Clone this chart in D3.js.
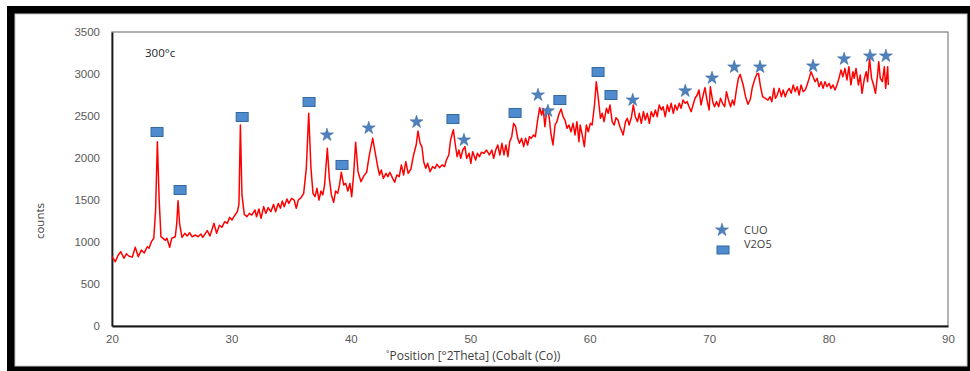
<!DOCTYPE html>
<html lang="en">
<head>
<meta charset="UTF-8">
<title>XRD pattern 300°c</title>
<script src="https://d3js.org/d3.v7.min.js"></script>
<style>
  body { margin: 0; background: #fff; }
  svg { display: block; font-family: "Open Sans", sans-serif; }
  .axis text { font-size: 11.5px; fill: #595959; }
</style>
</head>
<body>
<svg id="chart" width="970" height="371"></svg>
<script>
// scan: 2theta (deg) and counts
const theta = [
  20.0, 20.28, 20.5, 20.73, 21.0, 21.2, 21.4, 21.7, 21.95, 22.2, 22.46, 22.7, 22.95, 23.1, 23.3, 23.5,
  23.65, 23.8, 23.95, 24.1, 24.3, 24.47, 24.6, 24.83, 25.0, 25.3, 25.42, 25.53, 25.66, 25.86, 26.1, 26.3,
  26.5, 26.7, 27.0, 27.2, 27.45, 27.6, 27.98, 28.2, 28.54, 28.76, 29.0, 29.2, 29.44, 29.66, 29.85, 30.05,
  30.3, 30.5, 30.63, 30.75, 30.88, 31.08, 31.3, 31.5, 31.7, 31.97, 32.1, 32.3, 32.48, 32.7, 32.88, 33.08,
  33.3, 33.53, 33.7, 33.92, 34.1, 34.26, 34.42, 34.65, 34.8, 35.04, 35.25, 35.43, 35.6, 35.83, 36.05, 36.27,
  36.47, 36.66, 36.83, 37.0, 37.16, 37.33, 37.5, 37.65, 37.8, 38.03, 38.2, 38.37, 38.56, 38.72, 38.9, 39.05,
  39.2, 39.4, 39.57, 39.75, 39.92, 40.07, 40.23, 40.4, 40.6, 40.85, 41.1, 41.32, 41.55, 41.83, 42.05, 42.22,
  42.4, 42.55, 42.72, 42.95, 43.1, 43.27, 43.5, 43.67, 43.85, 44.05, 44.23, 44.42, 44.6, 44.8, 45.03, 45.25,
  45.47, 45.62, 45.8, 45.95, 46.1, 46.27, 46.43, 46.63, 46.85, 47.05, 47.2, 47.42, 47.65, 47.85, 48.0, 48.2,
  48.35, 48.58, 48.75, 48.9, 49.05, 49.2, 49.37, 49.55, 49.7, 49.9, 50.05, 50.2, 50.45, 50.6, 50.77, 50.93,
  51.15, 51.36, 51.6, 51.8, 51.96, 52.13, 52.3, 52.48, 52.65, 52.82, 52.98, 53.15, 53.3, 53.47, 53.63, 53.8,
  53.97, 54.12, 54.3, 54.47, 54.63, 54.8, 54.95, 55.1, 55.3, 55.45, 55.62, 55.81, 55.97, 56.1, 56.25, 56.42,
  56.6, 56.75, 56.92, 57.1, 57.25, 57.4, 57.6, 57.77, 57.93, 58.1, 58.26, 58.43, 58.6, 58.77, 58.93, 59.1,
  59.2, 59.4, 59.55, 59.72, 59.88, 60.05, 60.2, 60.4, 60.55, 60.72, 60.9, 61.05, 61.2, 61.4, 61.55, 61.7,
  61.88, 62.05, 62.2, 62.37, 62.53, 62.7, 62.8, 63.0, 63.15, 63.3, 63.5, 63.65, 63.82, 64.0, 64.15, 64.32,
  64.5, 64.65, 64.82, 65.0, 65.15, 65.33, 65.5, 65.65, 65.82, 66.0, 66.15, 66.32, 66.5, 66.65, 66.82, 67.0,
  67.15, 67.32, 67.5, 67.65, 67.82, 68.0, 68.15, 68.32, 68.5, 68.65, 68.82, 69.0, 69.15, 69.32, 69.5, 69.65,
  69.82, 70.0, 70.1, 70.3, 70.45, 70.62, 70.8, 70.95, 71.12, 71.3, 71.45, 71.62, 71.8, 71.95, 72.1, 72.3,
  72.45, 72.6, 72.85, 73.05, 73.25, 73.45, 73.6, 73.8, 74.0, 74.13, 74.3, 74.48, 74.7, 74.93, 75.1, 75.25,
  75.42, 75.55, 75.7, 75.87, 76.05, 76.2, 76.37, 76.53, 76.7, 76.87, 77.04, 77.2, 77.37, 77.53, 77.7, 77.87,
  78.04, 78.2, 78.37, 78.53, 78.7, 78.87, 79.04, 79.2, 79.37, 79.54, 79.7, 79.87, 80.04, 80.2, 80.37, 80.54,
  80.7, 80.87, 81.04, 81.2, 81.37, 81.54, 81.7, 81.87, 82.04, 82.15, 82.3, 82.5, 82.65, 82.8, 83.0, 83.15,
  83.27, 83.43, 83.6, 83.77, 83.93, 84.1, 84.2, 84.33, 84.5, 84.67, 84.78, 84.95, 85.0
];
const counts = [
  825, 765, 840, 885, 806, 860, 833, 820, 937, 825, 905, 870, 944, 925, 1004, 1044,
  1380, 2194, 1500, 1063, 1040, 1020, 1044, 937, 1044, 1063, 1220, 1492, 1220, 1055, 1103, 1071,
  1111, 1063, 1083, 1063, 1095, 1055, 1135, 1071, 1222, 1103, 1200, 1175, 1242, 1222, 1293, 1262,
  1322, 1361, 1450, 2393, 1560, 1329, 1302, 1341, 1321, 1381, 1300, 1393, 1282, 1421, 1341, 1409,
  1361, 1448, 1361, 1460, 1401, 1488, 1421, 1512, 1460, 1520, 1500, 1401, 1500, 1528, 1579, 1877,
  2532, 1877, 1579, 1540, 1639, 1500, 1607, 1560, 1679, 2115, 1758, 1560, 1472, 1607, 1579, 1679,
  1830, 1679, 1698, 1607, 1698, 1540, 1798, 2187, 1837, 1718, 1790, 1830, 2036, 2234, 2056, 1917,
  1798, 1857, 1758, 1818, 1778, 1830, 1758, 1711, 1798, 1778, 1917, 1798, 1956, 1818, 1869, 2036,
  2155, 2321, 2175, 2135, 1956, 1877, 1937, 1837, 1897, 1877, 1925, 1885, 1917, 1897, 1976, 2036,
  2214, 2337, 2155, 2016, 2095, 1996, 2095, 2135, 1996, 2056, 1937, 2075, 1976, 2056, 2016, 2068,
  2056, 2095, 2036, 2095, 1996, 2095, 2155, 2036, 2175, 2036, 2155, 2016, 2194, 2254, 2413, 2373,
  2234, 2175, 2234, 2135, 2234, 2155, 2254, 2234, 2274, 2254, 2432, 2599, 2512, 2591, 2373, 2591,
  2492, 2294, 2155, 2393, 2432, 2512, 2583, 2492, 2452, 2353, 2393, 2313, 2413, 2274, 2432, 2194,
  2393, 2254, 2135, 2393, 2313, 2413, 2393, 2631, 2908, 2711, 2472, 2532, 2432, 2591, 2532, 2631,
  2432, 2393, 2480, 2452, 2373, 2313, 2274, 2432, 2472, 2393, 2492, 2631, 2492, 2432, 2532, 2413,
  2552, 2452, 2532, 2413, 2552, 2492, 2571, 2492, 2631, 2571, 2611, 2492, 2631, 2552, 2651, 2532,
  2631, 2571, 2651, 2591, 2690, 2651, 2671, 2611, 2552, 2631, 2711, 2750, 2810, 2631, 2750, 2837,
  2690, 2571, 2849, 2671, 2611, 2671, 2611, 2711, 2651, 2611, 2790, 2690, 2611, 2690, 2631, 2829,
  2950, 2995, 2869, 2730, 2640, 2700, 2830, 2930, 3000, 3008, 2850, 2730, 2711, 2690, 2730, 2671,
  2829, 2711, 2750, 2829, 2730, 2810, 2730, 2790, 2829, 2770, 2869, 2790, 2849, 2750, 2869, 2790,
  2810, 2869, 2948, 3028, 2968, 2908, 2948, 2849, 2908, 2829, 2908, 2849, 2889, 2829, 2869, 2810,
  2869, 2948, 3048, 2968, 3067, 2929, 3087, 2869, 3028, 2948, 3067, 2869, 2988, 2770, 2948, 3028,
  2908, 3187, 2948, 2869, 2770, 2988, 3147, 2948, 2908, 3087, 2829, 3087, 2869
];

// phase markers
const cuoTheta  = [38.0, 41.5, 45.5, 49.47, 55.67, 56.5, 63.6, 68.0, 70.24, 72.1, 74.26, 78.7, 81.3, 83.47, 84.8];
const cuoCounts = [2274, 2357, 2429, 2214, 2750, 2560, 2690, 2798, 2952, 3083, 3083, 3095, 3179, 3214, 3214];
const v2o5Theta  = [23.77, 25.7, 30.9, 36.5, 39.26, 48.55, 53.75, 57.5, 60.7, 61.78];
const v2o5Counts = [2310, 1619, 2488, 2667, 1917, 2464, 2536, 2690, 3024, 2750];

const xTicks = [20, 30, 40, 50, 60, 70, 80, 90];
const yTicks = [0, 500, 1000, 1500, 2000, 2500, 3000, 3500];

const svg = d3.select("#chart");
const x = d3.scaleLinear().domain([20, 90]).range([112, 948]);
const y = d3.scaleLinear().domain([0, 3500]).range([326, 32]);

// heavy black frame round the picture
svg.append("rect").attr("x", 7).attr("y", 6).attr("width", 963).attr("height", 365).attr("fill", "#000");
svg.append("rect").attr("x", 15).attr("y", 14).attr("width", 952).attr("height", 352)
  .attr("fill", "#fff").attr("stroke", "#c8c8c8");

// plot area border
svg.append("rect").attr("x", 112).attr("y", 32).attr("width", 836).attr("height", 294)
  .attr("fill", "none").attr("stroke", "#7f7f7f").attr("stroke-width", 1.2);

svg.append("g").attr("class", "axis").attr("transform", "translate(0,326)")
  .call(d3.axisBottom(x).tickValues(xTicks).tickFormat(d3.format("d")).tickSize(0).tickPadding(9));
svg.append("g").attr("class", "axis").attr("transform", "translate(112,0)")
  .call(d3.axisLeft(y).tickValues(yTicks).tickFormat(d3.format("d")).tickSize(0).tickPadding(12));
svg.selectAll(".axis .domain").attr("stroke", "#1a1a1a").attr("stroke-width", 1.8);

// the red scan
const line = d3.line().x((d, i) => x(theta[i])).y(d => y(d));
svg.append("path").datum(counts)
  .attr("d", line)
  .attr("fill", "none")
  .attr("stroke", "#ff0000")
  .attr("stroke-width", 1.5)
  .attr("stroke-linejoin", "round");

// markers
const star = d3.symbol().type(d3.symbolStar).size(52);
svg.append("g").selectAll("path")
  .data(cuoTheta)
  .join("path")
  .attr("d", star)
  .attr("transform", (d, i) => `translate(${x(d)},${y(cuoCounts[i])})`)
  .attr("fill", "#4f81bd")
  .attr("stroke", "#3b6ba3")
  .attr("stroke-width", 0.6);

svg.append("g").selectAll("rect")
  .data(v2o5Theta)
  .join("rect")
  .attr("x", d => x(d) - 6)
  .attr("y", (d, i) => y(v2o5Counts[i]) - 4.5)
  .attr("width", 12)
  .attr("height", 9)
  .attr("fill", "#4f8bcf")
  .attr("stroke", "#35689f")
  .attr("stroke-width", 1);

// sample label
svg.append("text").attr("x", 145).attr("y", 57)
  .attr("font-size", 11.5).attr("fill", "#262626")
  .text("300°c");

// legend
svg.append("path").attr("d", star).attr("transform", "translate(722,230)")
  .attr("fill", "#4f81bd").attr("stroke", "#3b6ba3").attr("stroke-width", 0.6);
svg.append("text").attr("x", 744).attr("y", 234).attr("font-size", 11).attr("fill", "#404040").text("CUO");
svg.append("rect").attr("x", 717).attr("y", 246).attr("width", 12).attr("height", 8)
  .attr("fill", "#4f8bcf").attr("stroke", "#35689f");
svg.append("text").attr("x", 744).attr("y", 248).attr("font-size", 11).attr("fill", "#404040").text("V2O5");

// axis titles
const xt = svg.append("text").attr("x", 386).attr("y", 360).attr("font-size", 12).attr("fill", "#404040");
xt.append("tspan").attr("font-size", 8).attr("dy", -4).text("°");
xt.append("tspan").attr("dy", 4).text("Position [°2Theta] (Cobalt (Co))");

svg.append("text")
  .attr("transform", "translate(44,221) rotate(-90)")
  .attr("text-anchor", "middle")
  .attr("font-size", 11.5).attr("fill", "#404040")
  .text("counts");
</script>
</body>
</html>
